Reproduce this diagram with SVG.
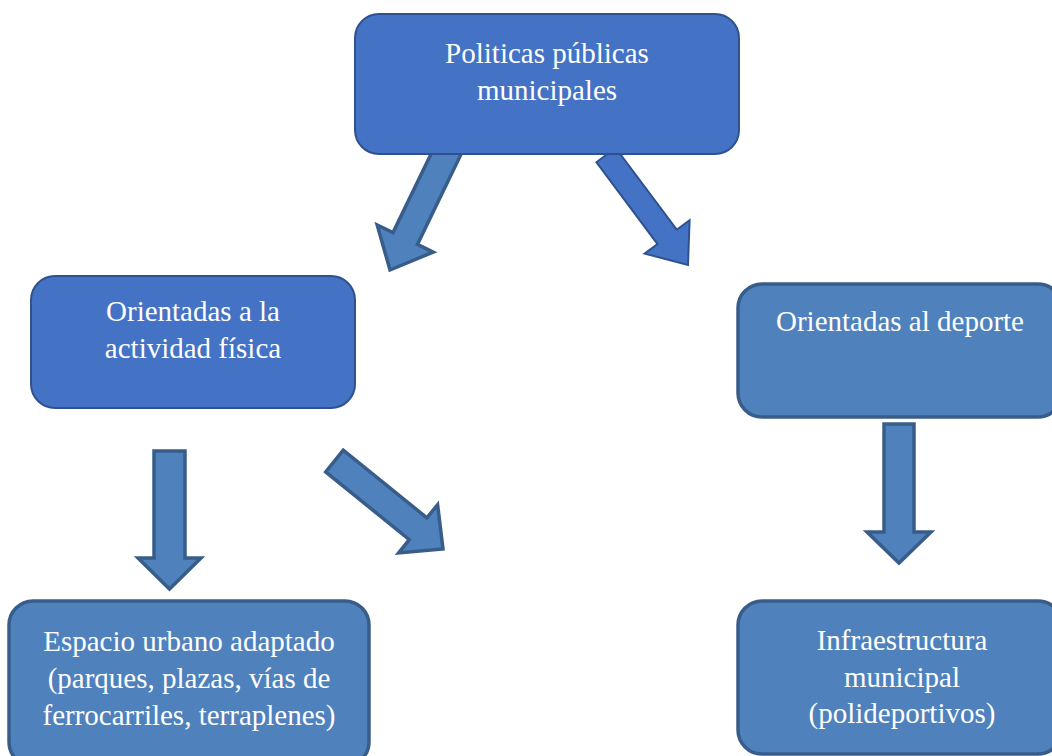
<svg xmlns="http://www.w3.org/2000/svg" width="1052" height="756" viewBox="0 0 1052 756">
<style>
.a{fill:#4472C4;stroke:#2F528F;stroke-width:2}
.b{fill:#4F81BD;stroke:#385D8A;stroke-width:3.5}
text{font-family:"Liberation Serif","Times New Roman",serif;font-size:29px;fill:#FFFFFF;text-anchor:middle}
</style>
<rect width="1052" height="756" fill="#FFFFFF"/>
<g id="connectors">
<polygon class="b" points="461.2,153.9 436.8,142.1 393.0,232.6 377.2,225.0 390,270 433.2,252.1 417.4,244.4"/>
<polygon class="a" points="596.4,162.2 615.6,147.8 676.7,229.7 689.6,220.2 688,265 644.6,253.6 657.5,244.1"/>
<polygon class="b" points="154,451 185,451 185,558 201,558 169.5,589 138,558 154,558"/>
<polygon class="b" points="343.3,450.1 325.7,471.9 409.3,539.7 398.6,552.9 443,549 437.6,504.7 426.9,517.9"/>
<polygon class="b" points="884,424 914,424 914,532 931,532 899,563 867,532 884,532"/>
</g>
<g id="n1">
<rect class="a" x="355" y="14" width="384" height="140" rx="24"/>
<text x="547" y="63">Politicas públicas</text>
<text x="547" y="100">municipales</text>
</g>
<g id="n2">
<rect class="a" x="31" y="276" width="324" height="132" rx="24"/>
<text x="193" y="321">Orientadas a la</text>
<text x="193" y="358">actividad física</text>
</g>
<g id="n3">
<rect class="b" x="738" y="284" width="324" height="133" rx="24"/>
<text x="900" y="331">Orientadas al deporte</text>
</g>
<g id="n4">
<rect class="b" x="9" y="601" width="360" height="165" rx="24"/>
<text x="189" y="651">Espacio urbano adaptado</text>
<text x="189" y="688">(parques, plazas, vías de</text>
<text x="189" y="725">ferrocarriles, terraplenes)</text>
</g>
<g id="n5">
<rect class="b" x="738" y="601" width="324" height="153" rx="24"/>
<text x="902" y="650">Infraestructura</text>
<text x="902" y="687">municipal</text>
<text x="902" y="723">(polideportivos)</text>
</g>
</svg>
